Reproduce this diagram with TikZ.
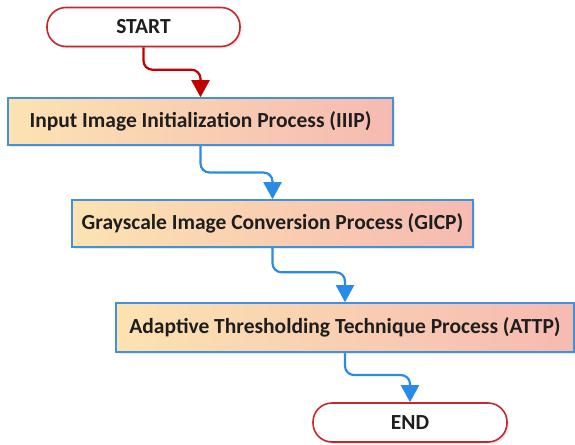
\documentclass[tikz,border=0pt]{standalone}
\usepackage{fontspec}
\setmainfont{Carlito}
\usetikzlibrary{arrows.meta,calc,shadows}
\definecolor{bordblue}{HTML}{3F93DC}
\definecolor{arrblue}{HTML}{2A8BE6}
\definecolor{termred}{HTML}{C8262E}
\definecolor{arrred}{HTML}{C00000}
\definecolor{fillL}{HTML}{FCE3B2}
\definecolor{fillR}{HTML}{F6BAB2}
\definecolor{txt}{HTML}{1E1E1E}
\begin{document}
\begin{tikzpicture}[x=1pt,y=-1pt,
  procbox/.style={draw=bordblue, line width=1.6pt, left color=fillL, right color=fillR,
    minimum height=47pt, inner sep=0pt, font=\fontsize{21.5}{24}\selectfont\bfseries, text=txt,
    drop shadow={opacity=0.18, shadow xshift=2pt, shadow yshift=-2pt}},
  termbox/.style={draw=termred, line width=1.6pt, fill=white, rounded corners=19pt,
    minimum height=39pt, inner sep=0pt, font=\fontsize{21.5}{24}\selectfont\bfseries, text=txt,
    drop shadow={opacity=0.18, shadow xshift=2pt, shadow yshift=-2pt}},
  conn/.style={line width=2.2pt, rounded corners=9pt, -{Triangle[width=18pt,length=17pt]}},
]
\useasboundingbox (0,0) rectangle (575,444);
\node[termbox, minimum width=193pt] (start) at (143.5,27) {START};
\node[procbox, minimum width=385pt] (iiip) at (200.5,121.5) {Input Image Initialization Process (IIIP)};
\node[procbox, minimum width=401pt] (gicp) at (272.5,223.5) {Grayscale Image Conversion Process (GICP)};
\node[procbox, minimum width=458pt, minimum height=49pt] (attp) at (345,327.5) {Adaptive Thresholding Technique Process (ATTP)};
\node[termbox, minimum width=194pt] (end) at (410,422.5) {END};

\draw[conn, draw=arrred] (start.south) |- ($(start.south)!.45!(iiip.north)$) -| (iiip.north);
\draw[conn, draw=arrblue] (iiip.south) |- ($(iiip.south)!.5!(gicp.north)$) -| (gicp.north);
\draw[conn, draw=arrblue] (gicp.south) |- ($(gicp.south)!.45!(attp.north)$) -| (attp.north);
\draw[conn, draw=arrblue] (attp.south) |- ($(attp.south)!.45!(end.north)$) -| (end.north);
\end{tikzpicture}
\end{document}
